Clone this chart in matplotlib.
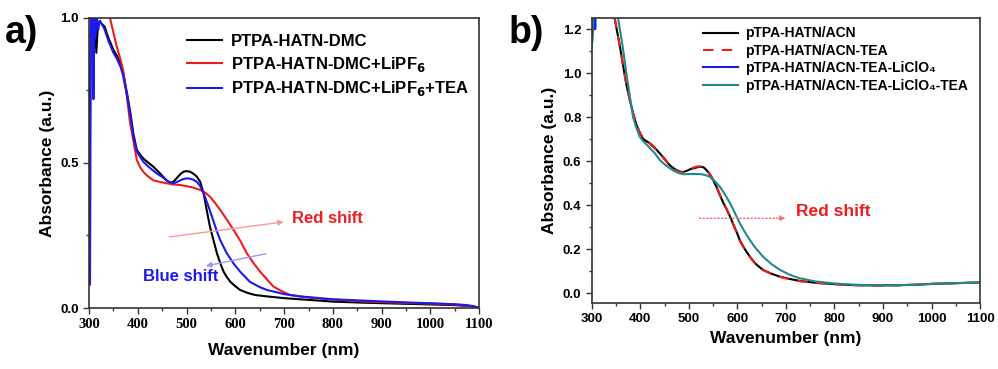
import matplotlib

matplotlib.use("Agg")
import matplotlib.pyplot as plt
from matplotlib.ticker import MultipleLocator, FormatStrFormatter

# ---------------------------------------------------------------------------
# Dados
# ---------------------------------------------------------------------------

# painel a)
wl_a_black = [300, 303, 306, 309, 312, 315, 318, 322, 326, 332, 340, 350, 357, 365,
              370, 378, 385, 391, 398, 405, 411, 420, 432, 445, 459, 466, 473, 480,
              488, 494, 500, 507, 514, 521, 528, 535, 541, 548, 555, 562, 570, 576,
              582, 590, 600, 610, 625, 640, 665, 700, 733, 801, 869, 938, 1006,
              1050, 1075, 1090, 1100]
abs_a_black = [0.12, 0.95, 1.0, 0.9, 1.0, 0.88, 0.97, 0.99, 0.98, 0.97, 0.93, 0.89,
               0.87, 0.84, 0.81, 0.74, 0.67, 0.60, 0.545, 0.528, 0.516, 0.503, 0.487,
               0.465, 0.44, 0.432, 0.435, 0.448, 0.463, 0.47, 0.472, 0.47, 0.463,
               0.453, 0.435, 0.395, 0.34, 0.28, 0.235, 0.19, 0.15, 0.125, 0.108,
               0.09, 0.075, 0.062, 0.052, 0.045, 0.04, 0.034, 0.03, 0.022, 0.018,
               0.015, 0.012, 0.01, 0.007, 0.004, 0.0]

wl_a_red = [335, 343, 350, 357, 364, 370, 377, 384, 391, 398, 405, 411, 420, 432,
            445, 459, 473, 487, 500, 514, 528, 538, 548, 558, 569, 582, 596, 610,
            623, 637, 651, 665, 678, 695, 712, 740, 767, 820, 870, 940, 1006, 1050,
            1080, 1100]
abs_a_red = [1.06, 1.0, 0.95, 0.9, 0.86, 0.82, 0.74, 0.64, 0.575, 0.51, 0.485, 0.47,
             0.455, 0.44, 0.435, 0.43, 0.426, 0.424, 0.42, 0.415, 0.407, 0.398, 0.384,
             0.363, 0.338, 0.306, 0.27, 0.232, 0.19, 0.155, 0.125, 0.098, 0.074,
             0.058, 0.045, 0.038, 0.033, 0.027, 0.022, 0.018, 0.015, 0.012, 0.007,
             0.0]

wl_a_blue = [300, 302, 303, 304, 306, 308, 309, 311, 313, 316, 319, 322, 326, 332,
             340, 350, 357, 365, 370, 378, 385, 391, 398, 405, 411, 420, 432, 439,
             450, 459, 466, 473, 480, 488, 494, 500, 507, 514, 521, 528, 535, 545,
             555, 562, 569, 582, 596, 610, 630, 650, 665, 700, 733, 801, 869, 938,
             1006, 1050, 1075, 1090, 1100]
abs_a_blue = [0.13, 0.08, 0.6, 1.0, 0.95, 1.0, 0.72, 1.0, 0.93, 1.0, 0.96, 0.99,
              0.98, 0.96, 0.92, 0.88, 0.86, 0.83, 0.80, 0.73, 0.66, 0.59, 0.54,
              0.52, 0.505, 0.49, 0.473, 0.464, 0.452, 0.44, 0.433, 0.43, 0.434,
              0.441, 0.445, 0.447, 0.446, 0.442, 0.435, 0.42, 0.395, 0.35, 0.30,
              0.265, 0.234, 0.19, 0.154, 0.125, 0.09, 0.072, 0.062, 0.048, 0.04,
              0.03, 0.025, 0.02, 0.016, 0.013, 0.01, 0.006, 0.0]

labels_a = ["PTPA-HATN-DMC", r"PTPA-HATN-DMC+LiPF$_\mathbf{6}$",
            r"PTPA-HATN-DMC+LiPF$_\mathbf{6}$+TEA"]

# painel b)
wl_b_black = [300, 302, 304, 306, 308, 312, 320, 330, 340, 347, 352, 358, 364, 371,
              378, 385, 392, 399, 406, 413, 420, 430, 440, 450, 461, 470, 480, 488,
              495, 502, 509, 516, 523, 530, 536, 543, 550, 557, 564, 571, 578, 585,
              592, 599, 605, 612, 619, 626, 633, 640, 653, 670, 688, 708, 729, 760,
              798, 830, 866, 900, 935, 970, 1004, 1050, 1100]
abs_b_black = [1.12, 1.2, 1.3, 1.4, 1.5, 1.6, 1.7, 1.7, 1.45, 1.25, 1.19, 1.12,
               1.04, 0.95, 0.88, 0.817, 0.765, 0.726, 0.70, 0.69, 0.68, 0.66, 0.635,
               0.61, 0.58, 0.565, 0.553, 0.55, 0.555, 0.562, 0.567, 0.571, 0.574,
               0.572, 0.56, 0.54, 0.514, 0.482, 0.445, 0.41, 0.38, 0.347, 0.31,
               0.275, 0.24, 0.212, 0.187, 0.165, 0.145, 0.128, 0.105, 0.088, 0.074,
               0.064, 0.055, 0.047, 0.041, 0.037, 0.035, 0.035, 0.036, 0.038, 0.042,
               0.045, 0.048]

wl_b_red = [330, 340, 347, 352, 358, 364, 371, 378, 385, 392, 399, 406, 413, 420,
            430, 440, 450, 461, 470, 480, 488, 495, 502, 509, 516, 523, 530, 536,
            543, 550, 557, 564, 571, 578, 585, 592, 599, 605, 612, 619, 626, 633,
            640, 653, 670, 688, 708, 729, 760, 798, 830, 866, 900, 935, 970, 1004,
            1050, 1100]
abs_b_red = [1.7, 1.45, 1.25, 1.19, 1.12, 1.04, 0.95, 0.88, 0.82, 0.77, 0.73, 0.705,
             0.69, 0.678, 0.657, 0.633, 0.607, 0.578, 0.562, 0.55, 0.548, 0.555,
             0.563, 0.57, 0.575, 0.576, 0.572, 0.562, 0.543, 0.517, 0.485, 0.448,
             0.412, 0.38, 0.345, 0.308, 0.272, 0.238, 0.21, 0.185, 0.163, 0.143,
             0.126, 0.104, 0.087, 0.073, 0.063, 0.054, 0.046, 0.04, 0.036, 0.034,
             0.034, 0.035, 0.038, 0.042, 0.045, 0.048]

wl_b_teal = [300, 302, 304, 306, 308, 312, 320, 330, 340, 349, 354, 360, 365, 371,
             378, 385, 392, 399, 406, 413, 420, 430, 440, 450, 461, 471, 481, 490,
             502, 512, 523, 533, 543, 550, 557, 564, 571, 578, 585, 592, 599, 605,
             612, 619, 626, 633, 640, 653, 670, 688, 708, 729, 760, 798, 830, 866,
             900, 935, 970, 1004, 1050, 1100]
abs_b_teal = [1.12, 1.2, 1.3, 1.4, 1.5, 1.6, 1.7, 1.7, 1.5, 1.3, 1.25, 1.17, 1.1,
              1.0, 0.9, 0.8, 0.75, 0.71, 0.69, 0.675, 0.658, 0.635, 0.605, 0.585,
              0.567, 0.553, 0.544, 0.54, 0.541, 0.541, 0.541, 0.537, 0.529, 0.515,
              0.5, 0.483, 0.46, 0.435, 0.408, 0.377, 0.345, 0.317, 0.29, 0.264, 0.24,
              0.218, 0.198, 0.165, 0.132, 0.105, 0.083, 0.067, 0.053, 0.044, 0.039,
              0.036, 0.035, 0.036, 0.038, 0.042, 0.045, 0.048]

wl_b_blue = [303, 304, 305, 306, 307, 308]
abs_b_blue = [1.2, 1.26, 1.2, 1.3, 1.2, 1.3]

labels_b = ["pTPA-HATN/ACN", "pTPA-HATN/ACN-TEA", "pTPA-HATN/ACN-TEA-LiClO\u2084",
            "pTPA-HATN/ACN-TEA-LiClO\u2084-TEA"]

# ---------------------------------------------------------------------------
# Figura
# ---------------------------------------------------------------------------

plt.rcParams["font.family"] = ["Liberation Sans", "DejaVu Sans"]
plt.rcParams["font.weight"] = "bold"
plt.rcParams["mathtext.default"] = "bf"

fig = plt.figure(figsize=(9.98, 3.69), dpi=100)
ax_a = fig.add_axes([0.0892, 0.1653, 0.391, 0.786])
ax_b = fig.add_axes([0.593, 0.179, 0.389, 0.772])

spine_col = "#333333"
for ax in (ax_a, ax_b):
    for s in ax.spines.values():
        s.set_linewidth(1.2)
        s.set_color(spine_col)
    ax.tick_params(which="both", direction="out", top=False, right=False,
                   color=spine_col, width=1.0)
    ax.tick_params(which="major", length=4)
    ax.tick_params(which="minor", length=2.5)
    ax.set_xlim(300, 1100)
    ax.xaxis.set_major_locator(MultipleLocator(100))
    ax.xaxis.set_minor_locator(MultipleLocator(50))
    ax.set_ylabel("Absorbance (a.u.)", fontsize=12.5, fontweight="bold", labelpad=4)

ax_a.set_xlabel("Wavenumber (nm)", fontsize=12.5, fontweight="bold", labelpad=8)
ax_b.set_xlabel("Wavenumber (nm)", fontsize=12.5, fontweight="bold", labelpad=4)

# ---- painel a
ax_a.plot(wl_a_black, abs_a_black, color="black", lw=1.5, label=labels_a[0])
ax_a.plot(wl_a_red, abs_a_red, color="#ee1c1c", lw=1.5, label=labels_a[1])
ax_a.plot(wl_a_blue, abs_a_blue, color="#1a1aee", lw=1.5, label=labels_a[2])
ax_a.set_ylim(0, 1.0)
ax_a.yaxis.set_major_locator(MultipleLocator(0.5))
ax_a.yaxis.set_minor_locator(MultipleLocator(0.25))
ax_a.yaxis.set_major_formatter(FormatStrFormatter("%.1f"))
ax_a.tick_params(axis="y", labelsize=9.5)
ax_a.tick_params(axis="x", labelsize=10.5)
leg_a = ax_a.legend(loc="upper right", bbox_to_anchor=(1.0, 0.98), frameon=False,
                    fontsize=12, handlelength=2.1, handletextpad=0.5,
                    labelspacing=0.35, borderaxespad=0.2)
for t in leg_a.get_texts():
    t.set_fontweight("bold")

ax_a.annotate("", xy=(705, 0.298), xytext=(459, 0.244),
              arrowprops=dict(arrowstyle="-|>", color="#f59a9a", lw=1.0,
                              mutation_scale=8))
ax_a.text(716, 0.31, "Red shift", color="#ee1c1c", fontsize=12,
          fontweight="bold", va="center")
ax_a.annotate("", xy=(534, 0.143), xytext=(668, 0.189),
              arrowprops=dict(arrowstyle="-|>", color="#9a9af5", lw=1.0,
                              mutation_scale=8))
ax_a.text(410, 0.108, "Blue shift", color="#1a1aee", fontsize=12,
          fontweight="bold", va="center")

# ---- painel b
ax_b.plot(wl_b_black, abs_b_black, color="black", lw=1.5, label=labels_b[0])
ax_b.plot(wl_b_red, abs_b_red, color="#ee1c1c", lw=1.5, ls=(0, (5, 4)),
          label=labels_b[1])
ax_b.plot(wl_b_blue, abs_b_blue, color="#1a1aee", lw=1.5, label=labels_b[2])
ax_b.plot(wl_b_teal, abs_b_teal, color="#1f8a8a", lw=1.5, label=labels_b[3])
ax_b.set_ylim(-0.045, 1.25)
ax_b.yaxis.set_major_locator(MultipleLocator(0.2))
ax_b.yaxis.set_minor_locator(MultipleLocator(0.1))
ax_b.yaxis.set_major_formatter(FormatStrFormatter("%.1f"))
ax_b.tick_params(labelsize=9.5)
leg_b = ax_b.legend(loc="upper right", bbox_to_anchor=(0.99, 1.0), frameon=False,
                    fontsize=10, handlelength=2.5, handletextpad=0.5,
                    labelspacing=0.25, borderaxespad=0.2)
for t in leg_b.get_texts():
    t.set_fontweight("bold")

ax_b.annotate("", xy=(705, 0.34), xytext=(516, 0.34),
              arrowprops=dict(arrowstyle="-|>", color="#f07070", lw=1.0, ls=":",
                              mutation_scale=8))
ax_b.text(720, 0.37, "Red shift", color="#ee1c1c", fontsize=12.5,
          fontweight="bold", va="center")

# rótulos dos painéis
fig.text(0.005, 0.96, "a)", fontsize=27, fontweight="bold", va="top")
fig.text(0.51, 0.96, "b)", fontsize=27, fontweight="bold", va="top")

# eixo x do painel a usa fonte serifada (aplicar depois de desenhar)
fig.canvas.draw()
for lbl in ax_a.xaxis.get_majorticklabels():
    lbl.set_fontfamily("Liberation Serif")
    lbl.set_fontweight("bold")

plt.savefig("out.png", dpi=100)
plt.close()
